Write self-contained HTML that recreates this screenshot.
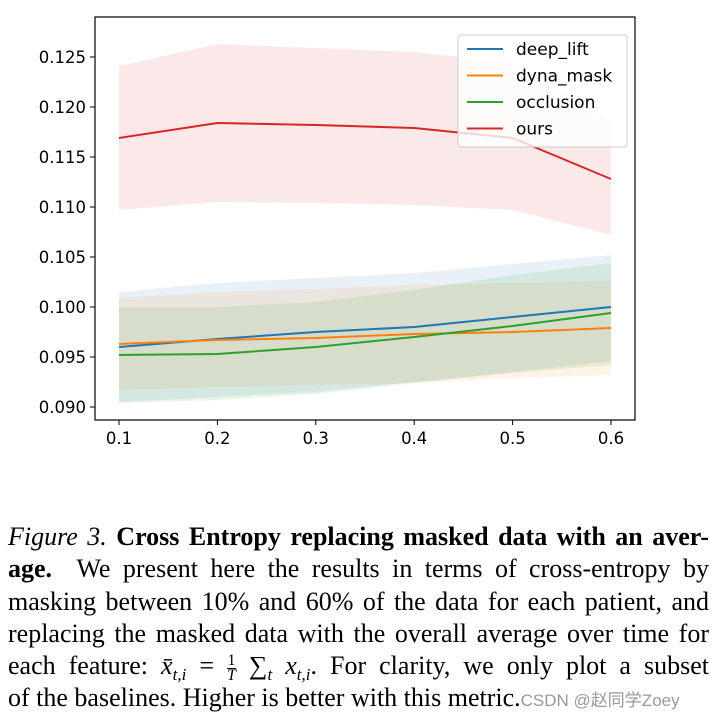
<!DOCTYPE html>
<html><head><meta charset="utf-8"><style>
body{margin:0;background:#fff;width:714px;height:723px;overflow:hidden;position:relative}
#cap{position:absolute;left:8px;top:521px;width:701px;font-family:"Liberation Serif",serif;font-size:26px;color:#000}
.ln{height:32.3px;line-height:32px;white-space:nowrap;text-align:justify;text-align-last:justify;overflow:visible}
.ln.last{text-align-last:left}
.s{position:relative;font-size:17px}
.sb{top:6px}.sp{top:-10px}
.wm{font-family:"Liberation Sans","Noto Sans CJK SC",sans-serif;font-size:17px;color:#999}
</style></head><body>
<svg id="chart" width="714" height="500" style="position:absolute;left:0;top:0" font-family="DejaVu Sans, sans-serif"></svg>
<div id="cap">
<div class="ln"><i>Figure 3.</i> <b>Cross Entropy replacing masked data with an aver-</b></div>
<div class="ln"><b>age.</b>&nbsp; We present here the results in terms of cross-entropy by</div>
<div class="ln">masking between 10% and 60% of the data for each patient, and</div>
<div class="ln">replacing the masked data with the overall average over time for</div>
<div class="ln">each feature: <i>x̄<span class="s sb">t,i</span></i> = <span style="display:inline-block;vertical-align:middle;font-size:16px;line-height:14px;text-align:center;text-align-last:center"><span style="display:block;border-bottom:1px solid #000">1</span><i>T</i></span> ∑<span class="s sb"><i>t</i></span> <i>x<span class="s sb">t,i</span></i>. For clarity, we only plot a subset</div>
<div class="ln last">of the baselines. Higher is better with this metric.<span class="wm">CSDN @赵同学Zoey</span></div>
</div>
<script>
const xs=[0.1,0.2,0.3,0.4,0.5,0.6];
const yTicks=[0.090,0.095,0.100,0.105,0.110,0.115,0.120,0.125];
const seriesNames=["deep_lift","dyna_mask","occlusion","ours"];
const colors=["#1f77b4","#ff7f0e","#2ca02c","#d62728"];
const deepLift=[0.0960,0.0968,0.0975,0.0980,0.0990,0.1000];
const deepLiftHi=[0.1015,0.1024,0.1029,0.1034,0.1043,0.1052];
const deepLiftLo=[0.0905,0.0910,0.0915,0.0925,0.0935,0.0946];
const dynaMask=[0.0963,0.0967,0.0969,0.0973,0.0975,0.0979];
const dynaMaskHi=[0.1009,0.1015,0.1018,0.1022,0.1024,0.1026];
const dynaMaskLo=[0.0917,0.0920,0.0922,0.0924,0.0929,0.0932];
const occlusion=[0.0952,0.0953,0.0960,0.0970,0.0981,0.0994];
const occlusionHi=[0.1000,0.1000,0.1005,0.1017,0.1032,0.1044];
const occlusionLo=[0.0904,0.0907,0.0913,0.0924,0.0934,0.0942];
const ours=[0.1169,0.1184,0.1182,0.1179,0.1169,0.1128];
const oursHi=[0.1241,0.1263,0.1259,0.1255,0.1244,0.1187];
const oursLo=[0.1097,0.1105,0.1104,0.1102,0.1097,0.1072];
const means=[deepLift,dynaMask,occlusion,ours],his=[deepLiftHi,dynaMaskHi,occlusionHi,oursHi],los=[deepLiftLo,dynaMaskLo,occlusionLo,oursLo];
const L=95,R=635,T=17,B=420;
const X=v=>119+(v-0.1)*984;
const Y=v=>407-(v-0.09)*10000;
const svg=document.getElementById('chart');const NS="http://www.w3.org/2000/svg";
function mk(t,a,p){const e=document.createElementNS(NS,t);for(const k in a)e.setAttribute(k,a[k]);(p||svg).appendChild(e);return e;}
for(let s=0;s<4;s++){
 let d=xs.map((x,i)=>(i?'L':'M')+X(x)+','+Y(his[s][i])).join('')+xs.slice().reverse().map((x,j)=>'L'+X(x)+','+Y(los[s][5-j])).join('')+'Z';
 const b=mk('path',{d:d,fill:colors[s],'fill-opacity':0.1});
 
 
}
for(let s=0;s<4;s++){
 const l=mk('polyline',{points:xs.map((x,i)=>X(x)+','+Y(means[s][i])).join(' '),fill:'none',stroke:colors[s],'stroke-width':2});
 
 
}
const fr=mk('rect',{x:L,y:T,width:R-L,height:B-T,fill:'none',stroke:'#000','stroke-width':1.2});


yTicks.forEach(v=>{
 mk('line',{x1:L-5,x2:L,y1:Y(v),y2:Y(v),stroke:'#000'});
 const t=mk('text',{x:L-9,y:Y(v)+6,'text-anchor':'end','font-size':16.5});t.textContent=v.toFixed(3);
 
 
});
xs.forEach(v=>{
 mk('line',{x1:X(v),x2:X(v),y1:B,y2:B+5,stroke:'#000'});
 const t=mk('text',{x:X(v),y:B+24,'text-anchor':'middle','font-size':16.5});t.textContent=v.toFixed(1);
 
 
});
const lg=mk('g',{});


mk('rect',{x:458,y:35,width:169,height:112,rx:3,fill:'#fff','fill-opacity':0.8,stroke:'#ccc'},lg);
for(let s=0;s<4;s++){
 const yy=49+s*26.5;
 mk('line',{x1:467,x2:503,y1:yy,y2:yy,stroke:colors[s],'stroke-width':2},lg);
 const t=mk('text',{x:516,y:yy+6,'font-size':17},lg);t.textContent=seriesNames[s];
 
 
}
</script>
</body></html>
